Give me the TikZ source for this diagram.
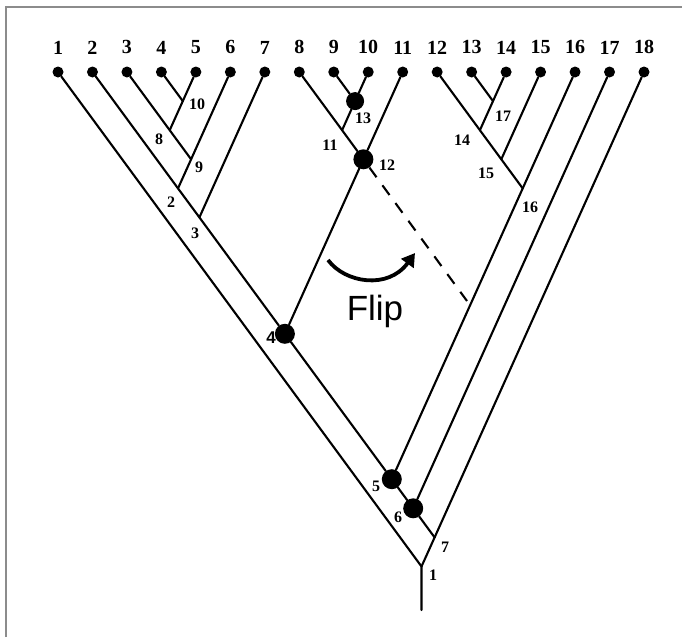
\documentclass[tikz,border=0pt]{standalone}
\usepackage{fontspec}
\setmainfont{Liberation Serif}
\setsansfont{Liberation Sans}
\usepackage{tikz}
\usetikzlibrary{arrows.meta,positioning}

\begin{document}
\begin{tikzpicture}[
  x=1pt, y=-1pt,
  node distance=12pt,
  rama/.style={line width=2.1pt, line cap=round},
  hoja/.style={circle, fill, inner sep=0pt, minimum size=11pt},
  hojalab/.style={inner sep=0pt, font=\fontsize{20}{20}\selectfont\bfseries},
  nodo/.style={circle, fill, inner sep=0pt, minimum size=20pt},
  etiq/.style={inner sep=0pt, font=\fontsize{16}{16}\selectfont\bfseries},
  marco/.style={line width=1.6pt, draw=black!45},
  flecha/.style={-{Triangle[length=13pt,width=15pt]}, line width=3.8pt}
]
\useasboundingbox (0,0) rectangle (682,637);
\draw[marco] (6,637) -- (6,7) -- (682,7);

% hojas
\node[hoja] (l1)  at (58,72) {};
\node[hoja] (l2)  at (92.47,72) {};
\node[hoja] (l3)  at (126.94,72) {};
\node[hoja] (l4)  at (161.41,72) {};
\node[hoja] (l5)  at (195.88,72) {};
\node[hoja] (l6)  at (230.35,72) {};
\node[hoja] (l7)  at (264.82,72) {};
\node[hoja] (l8)  at (299.29,72) {};
\node[hoja] (l9)  at (333.76,72) {};
\node[hoja] (l10) at (368.23,72) {};
\node[hoja] (l11) at (402.70,72) {};
\node[hoja] (l12) at (437.17,72) {};
\node[hoja] (l13) at (471.64,72) {};
\node[hoja] (l14) at (506.11,72) {};
\node[hoja] (l15) at (540.58,72) {};
\node[hoja] (l16) at (575.05,72) {};
\node[hoja] (l17) at (609.52,72) {};
\node[hoja] (l18) at (644,72) {};

\node[hojalab, above=of l1]  (h1)  {1};
\node[hojalab, above=of l2]  (h2)  {2};
\node[hojalab, above=of l3]  (h3)  {3};
\node[hojalab, above=of l4]  (h4)  {4};
\node[hojalab, above=of l5]  (h5)  {5};
\node[hojalab, above=of l6]  (h6)  {6};
\node[hojalab, above=of l7]  (h7)  {7};
\node[hojalab, above=of l8]  (h8)  {8};
\node[hojalab, above=of l9]  (h9)  {9};
\node[hojalab, above=of l10] (h10) {10};
\node[hojalab, above=of l11] (h11) {11};
\node[hojalab, above=of l12] (h12) {12};
\node[hojalab, above=of l13] (h13) {13};
\node[hojalab, above=of l14] (h14) {14};
\node[hojalab, above=of l15] (h15) {15};
\node[hojalab, above=of l16] (h16) {16};
\node[hojalab, above=of l17] (h17) {17};
\node[hojalab, above=of l18] (h18) {18};

% nodos internos
\coordinate (n1)  at (421.5,566.5);
\coordinate (n2)  at (178.0,188.4);
\coordinate (n3)  at (199.4,217.4);
\node[nodo] (n4)  at (284.9,333.8) {};
\node[nodo] (n5)  at (391.8,479.2) {};
\node[nodo] (n6)  at (413.2,508.3) {};
\coordinate (n7)  at (434.6,537.4);
\coordinate (n8)  at (169.7,130.2);
\coordinate (n9)  at (191.1,159.3);
\coordinate (n10) at (182.8,101.1);
\coordinate (n11) at (342.1,130.2);
\node[nodo] (n12) at (363.4,159.3) {};
\node[nodo, minimum size=18pt] (n13) at (355.1,101.1) {};
\coordinate (n14) at (479.9,130.2);
\coordinate (n15) at (501.3,159.3);
\coordinate (n16) at (522.7,188.4);
\coordinate (n17) at (493.0,101.1);
\coordinate (raiz) at (421.5,610);
\coordinate (corte) at (467,301);

% ramas
\draw[rama] (l1) -- (n1) -- (raiz);
\draw[rama] (l2) -- (n2) -- (n3) -- (n4);
\draw[rama] (n4) -- (n5);
\draw[rama] (n5) -- (n6);
\draw[rama] (n6) -- (n7) -- (n1);
\draw[rama] (l3) -- (n8) -- (n9);
\draw[rama] (l4) -- (n10);
\draw[rama] (l5) -- (n10) -- (n8);
\draw[rama] (l6) -- (n9) -- (n2);
\draw[rama] (l7) -- (n3);
\draw[rama] (l8) -- (n11) -- (n12);
\draw[rama] (l9) -- (n13);
\draw[rama] (l10) -- (n13);
\draw[rama] (n13) -- (n11);
\draw[rama] (l11) -- (n12);
\draw[rama] (n12) -- (n4);
\draw[rama] (l12) -- (n14) -- (n15) -- (n16);
\draw[rama] (l13) -- (n17);
\draw[rama] (l14) -- (n17) -- (n14);
\draw[rama] (l15) -- (n15);
\draw[rama] (l16) -- (n16) -- (n5);
\draw[rama] (l17) -- (n6);
\draw[rama] (l18) -- (n7);
\draw[rama, line cap=butt, dash pattern=on 12pt off 10pt] (n12) -- (corte);

% etiquetas
\node[etiq] (t1)  at (433,575) {1};
\node[etiq] (t2)  at (171,202) {2};
\node[etiq] (t3)  at (195,233) {3};
\node[etiq, font=\fontsize{17}{17}\selectfont\sffamily\bfseries] (t4) at (271,338) {4};
\node[etiq] (t5)  at (376,486) {5};
\node[etiq] (t6)  at (398,517) {6};
\node[etiq] (t7)  at (445,547) {7};
\node[etiq] (t8)  at (159,139) {8};
\node[etiq] (t9)  at (199,167) {9};
\node[etiq] (t10) at (197,104) {10};
\node[etiq] (t11) at (330,145) {11};
\node[etiq] (t12) at (387,165) {12};
\node[etiq] (t13) at (363,118) {13};
\node[etiq] (t14) at (462,140) {14};
\node[etiq] (t15) at (486,173) {15};
\node[etiq] (t16) at (530,207) {16};
\node[etiq] (t17) at (503,116) {17};

% flip
\coordinate (giroA) at (328,260);
\coordinate (giroB) at (415,253);
\draw[flecha] (giroA) .. controls (345,283) and (388,290) .. (giroB);
\node[font=\fontsize{35}{35}\selectfont\sffamily] (flip) at (375,311) {Flip};
\end{tikzpicture}
\end{document}
